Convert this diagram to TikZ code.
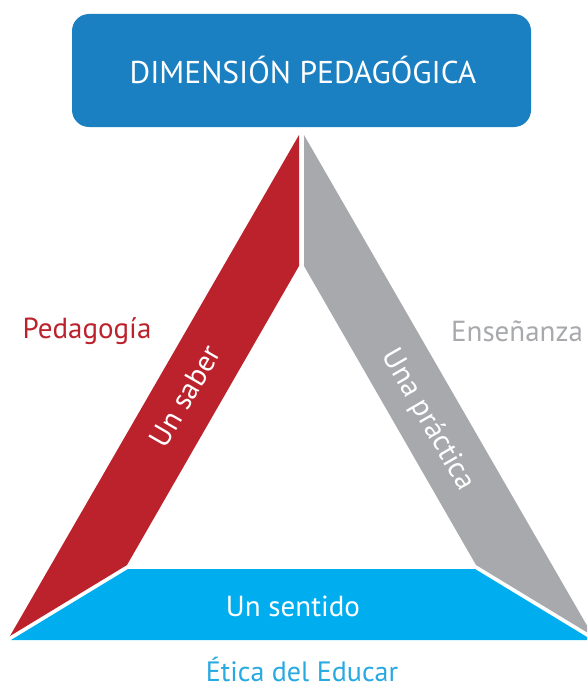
\documentclass[tikz,border=0pt]{standalone}
\usepackage{fontspec}
\setmainfont{PT Sans}
\definecolor{boxblue}{HTML}{1B80C1}
\definecolor{stripred}{HTML}{BC222C}
\definecolor{stripgray}{HTML}{A7A9AC}
\definecolor{cyanbar}{HTML}{00AEEF}
\definecolor{labblue}{HTML}{27A9E1}
\tikzset{
  striptext/.style={text=white, font=\fontsize{29.5}{32}\selectfont, inner sep=0pt},
  sidelabel/.style={font=\fontsize{29}{32}\selectfont, inner sep=0pt}
}
\begin{document}
\begin{tikzpicture}[x=1pt,y=-1pt]
\useasboundingbox (0,0) rectangle (587,693);
\clip (0,0) rectangle (587,693);
% top box
\fill[boxblue, rounded corners=17pt] (72,14) rectangle (531,127);
\node[text=white, font=\fontsize{31.5}{34}\selectfont, inner sep=0pt] (dim) at (303,70) {DIMENSIÓN PEDAGÓGICA};
% strips
\fill[stripred] (299,135) -- (299,266) -- (127,565) -- (10,636) -- cycle;
\fill[stripgray] (304,135) -- (304,266) -- (476,565) -- (593,636) -- cycle;
\fill[cyanbar] (128,569) -- (475,569) -- (592,640) -- (11,640) -- cycle;
% strip texts
\node[striptext, rotate=60] (saber) at (185,396) {Un saber};
\node[striptext, rotate=-60] (practica) at (428,420) {Una práctica};
\node[striptext, font=\fontsize{29}{32}\selectfont] (sentido) at (293,606) {Un sentido};
% side labels
\node[sidelabel, text=stripred] (pedagogia) at (87,331) {Pedagogía};
\node[sidelabel, text=stripgray] (ensenanza) at (517,331) {Enseñanza};
\node[sidelabel, text=labblue, font=\fontsize{28}{32}\selectfont] (etica) at (302,669) {Ética del Educar};
\end{tikzpicture}
\end{document}
